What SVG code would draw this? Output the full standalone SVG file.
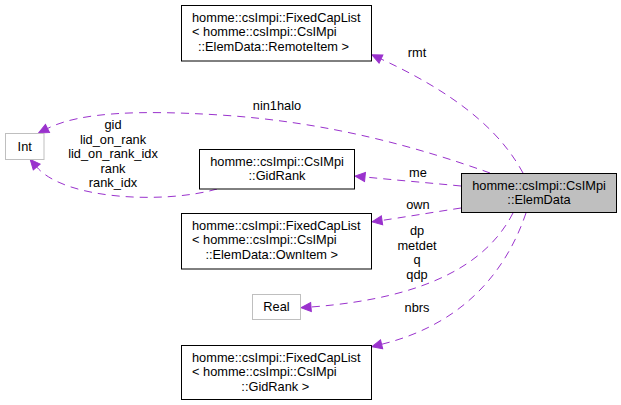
<svg xmlns="http://www.w3.org/2000/svg" width="621" height="405" viewBox="0 0 621 405">
<style>
text{font-family:"Liberation Sans",Arial,Helvetica,sans-serif;font-size:12.8px;fill:#000}
.m{text-anchor:middle}
.box{fill:#fff;stroke:#000;stroke-width:1}
.gbox{fill:#fff;stroke:#bfbfbf;stroke-width:1}
.sel{fill:#bfbfbf;stroke:#000;stroke-width:1}
.e{fill:none;stroke:#9a32cd;stroke-width:1;stroke-dasharray:8,6;marker-end:url(#ah)}
</style>
<defs>
<marker id="ah" markerUnits="userSpaceOnUse" markerWidth="12" markerHeight="10" refX="0" refY="4.5" orient="auto" overflow="visible">
<path d="M0,0 L10,4.5 L0,9 z" fill="#9a32cd" stroke="#9a32cd" stroke-width="1"/>
</marker>
</defs>
<rect width="621" height="405" fill="#fff"/>
<g id="edges">
<path class="e" d="M523,173 C505,140 470,100 381,59"/>
<path class="e" d="M490,173 C420,148 330,122 220,115 C140,110 80,112 47.5,128.5"/>
<path class="e" d="M461,186 C430,183 395,180 365,177"/>
<path class="e" d="M461,208 C435,212 405,217 382,220.4"/>
<path class="e" d="M513,213 C488,262 430,298 311,307"/>
<path class="e" d="M526,213 C505,275 460,325 381.6,344.3"/>
<path class="e" d="M217,189 C165,204 65,200 36.7,167"/>
<text class="m" x="417" y="57">rmt</text>
<text class="m" x="277" y="110">nin1halo</text>
<text class="m" x="418" y="177">me</text>
<text class="m" x="418" y="209">own</text>
<text class="m" x="417" y="235">dp</text>
<text class="m" x="417" y="249.6">metdet</text>
<text class="m" x="417" y="264.2">q</text>
<text class="m" x="417" y="278.8">qdp</text>
<text class="m" x="417" y="311.5">nbrs</text>
<text class="m" x="113" y="129">gid</text>
<text class="m" x="113" y="143.6">lid_on_rank</text>
<text class="m" x="113" y="158.2">lid_on_rank_idx</text>
<text class="m" x="113" y="172.8">rank</text>
<text class="m" x="113" y="187.4">rank_idx</text>
</g>
<g id="elemdata">
<rect class="sel" x="461.5" y="173.5" width="155" height="39"/>
<text class="m" x="539" y="190">homme::csImpi::CsIMpi</text>
<text class="m" x="539" y="204">::ElemData</text>
</g>
<g id="remoteitem">
<rect class="box" x="181.5" y="5.5" width="190" height="55.5"/>
<text x="192" y="22">homme::csImpi::FixedCapList</text>
<text x="192" y="36.3">&lt; homme::csImpi::CsIMpi</text>
<text class="m" x="273.5" y="50.6">::ElemData::RemoteItem &gt;</text>
</g>
<g id="int">
<rect class="gbox" x="5.5" y="133.5" width="38.5" height="26"/>
<text class="m" x="24.7" y="150.5">Int</text>
</g>
<g id="gidrank">
<rect class="box" x="199.5" y="149.5" width="155" height="39.5"/>
<text class="m" x="277" y="166">homme::csImpi::CsIMpi</text>
<text class="m" x="277" y="180">::GidRank</text>
</g>
<g id="ownitem">
<rect class="box" x="181.5" y="213.5" width="190" height="55.5"/>
<text x="192" y="230">homme::csImpi::FixedCapList</text>
<text x="192" y="244.3">&lt; homme::csImpi::CsIMpi</text>
<text class="m" x="271.7" y="258.6">::ElemData::OwnItem &gt;</text>
</g>
<g id="real">
<rect class="gbox" x="252.5" y="294.5" width="48" height="25"/>
<text class="m" x="276.5" y="311">Real</text>
</g>
<g id="gidranklist">
<rect class="box" x="181.5" y="345.5" width="190" height="54"/>
<text x="192" y="362">homme::csImpi::FixedCapList</text>
<text x="192" y="376.3">&lt; homme::csImpi::CsIMpi</text>
<text class="m" x="275.3" y="390.6">::GidRank &gt;</text>
</g>
</svg>
